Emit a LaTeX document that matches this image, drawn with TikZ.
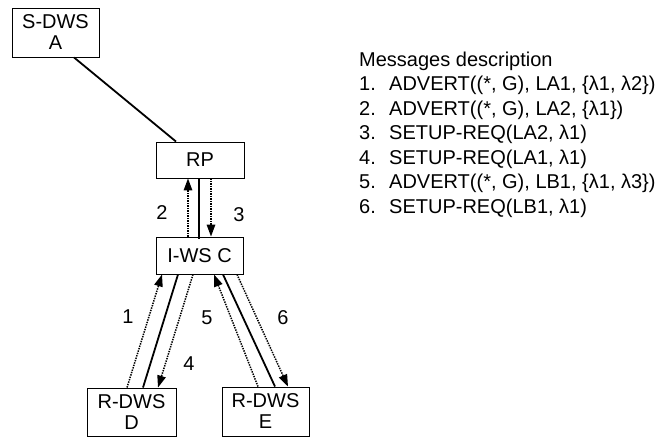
\documentclass[tikz,border=0pt]{standalone}
\usepackage{fontspec}
\setmainfont{Liberation Sans}
\usetikzlibrary{arrows.meta}
\tikzset{
  box/.style={draw, line width=0.9pt, inner sep=0pt, align=center,
    font=\fontsize{20}{21}\selectfont},
  lbl/.style={inner sep=0pt, font=\fontsize{20}{21}\selectfont},
  txt/.style={inner sep=0pt, anchor=base west, font=\fontsize{20}{24}\selectfont},
  solidline/.style={line width=1.8pt},
  dotline/.style={line width=1.5pt, dash pattern=on 1.4pt off 1.1pt},
  tip/.style={-{Triangle[length=12pt,width=8.5pt]}}
}
\begin{document}
\begin{tikzpicture}[x=1pt,y=-1pt]
\useasboundingbox (0,0) rectangle (663,437);
% boxes
\node[box, minimum width=87pt, minimum height=49pt] (A) at (55.5,32.5) {S-DWS\\A};
\node[box, minimum width=88pt, minimum height=36pt] (RP) at (200,160) {RP};
\node[box, minimum width=87pt, minimum height=37pt] (C) at (199.5,255.5) {I-WS C};
\node[box, minimum width=89pt, minimum height=48pt] (D) at (131.5,412) {R-DWS\\D};
\node[box, minimum width=87pt, minimum height=49pt] (E) at (265.5,411.5) {R-DWS\\E};
% A - RP
\draw[solidline] ([xshift=18.5pt]A.south) -- ([xshift=-24pt]RP.north);
% RP - C
\draw[dotline, tip] ([xshift=-11.5pt]C.north) -- ([xshift=-12pt]RP.south);
\draw[solidline] ([xshift=-1pt]RP.south) -- ([xshift=-0.5pt,yshift=-2pt]C.north);
\draw[dotline, tip] ([xshift=11pt]RP.south) -- ([xshift=11.5pt]C.north);
% C - D
\draw[dotline, tip] ([xshift=-4.5pt]D.north) -- ([xshift=-37.5pt]C.south);
\draw[solidline] ([xshift=11.5pt]D.north) -- ([xshift=-21.5pt]C.south);
\draw[dotline, tip] ([xshift=-6.5pt]C.south) -- ([xshift=26.5pt]D.north);
% C - E
\draw[dotline, tip] ([xshift=-7.5pt]E.north) -- ([xshift=14.5pt]C.south);
\draw[solidline] ([xshift=23.5pt]C.south) -- ([xshift=9.5pt]E.north);
\draw[dotline, tip] ([xshift=37.5pt]C.south) -- ([xshift=22.5pt]E.north);
% labels
\node[lbl] (l2) at (162,213) {2};
\node[lbl] (l3) at (239,215) {3};
\node[lbl] (l1) at (128,317) {1};
\node[lbl] (l4) at (189,364) {4};
\node[lbl] (l5) at (207,318) {5};
\node[lbl] (l6) at (283,318) {6};
% description
\node[txt] (hdr) at (359,66) {Messages description};
\node[txt] (m1) at (359,90.5) {\makebox[30pt][l]{1.}ADVERT((*, G), LA1, \{λ1, λ2\})};
\node[txt] (m2) at (359,115) {\makebox[30pt][l]{2.}ADVERT((*, G), LA2, \{λ1\})};
\node[txt] (m3) at (359,139.5) {\makebox[30pt][l]{3.}SETUP-REQ(LA2, λ1)};
\node[txt] (m4) at (359,164) {\makebox[30pt][l]{4.}SETUP-REQ(LA1, λ1)};
\node[txt] (m5) at (359,188.5) {\makebox[30pt][l]{5.}ADVERT((*, G), LB1, \{λ1, λ3\})};
\node[txt] (m6) at (359,213) {\makebox[30pt][l]{6.}SETUP-REQ(LB1, λ1)};
\end{tikzpicture}
\end{document}
